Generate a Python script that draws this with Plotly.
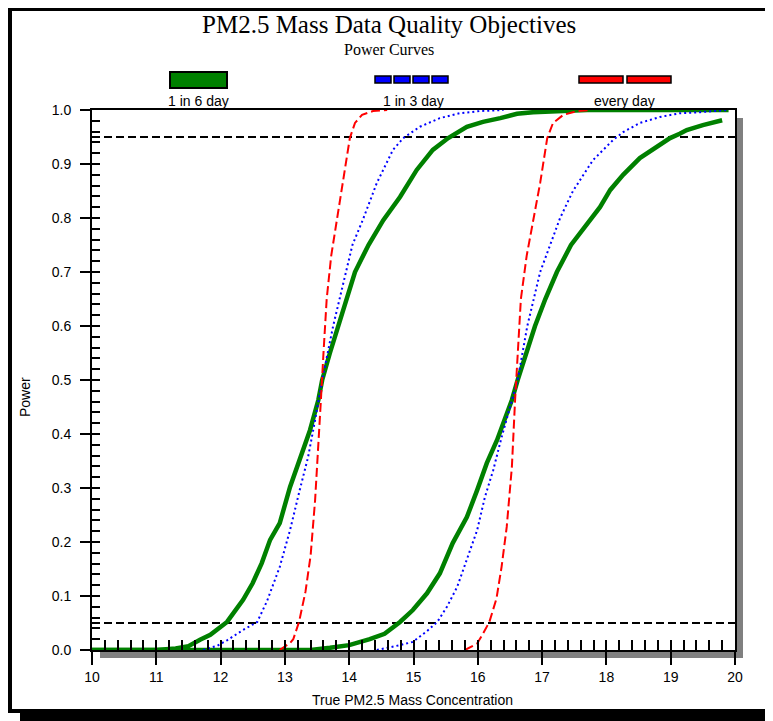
import plotly.graph_objects as go

# ---------------- data ----------------
title_text = "PM2.5 Mass Data Quality Objectives"
subtitle_text = "Power Curves"
x_title = "True PM2.5 Mass Concentration"
y_title = "Power"
series_names = ["1 in 6 day", "1 in 3 day", "every day"]

x_range = [10, 20]
y_range = [0, 1]
x_ticks = [10, 11, 12, 13, 14, 15, 16, 17, 18, 19, 20]
y_ticks = [0.0, 0.1, 0.2, 0.3, 0.4, 0.5, 0.6, 0.7, 0.8, 0.9, 1.0]
ref_levels = [0.05, 0.95]

# 1 in 6 day (green) - lower group
g6_low_x = [10.0, 11.0, 11.3, 11.5, 11.68, 11.84, 12.10, 12.35, 12.50, 12.64, 12.77, 12.92,
            13.08, 13.23, 13.39, 13.52, 13.58, 13.70, 13.83, 13.96, 14.09, 14.30, 14.53,
            14.79, 15.05, 15.30, 15.54, 15.83, 16.08, 16.35, 16.61, 16.86, 17.39, 17.7, 19.9]
g6_low_y = [0.0, 0.0, 0.003, 0.007, 0.019, 0.028, 0.052, 0.093, 0.124, 0.161, 0.204, 0.235,
            0.302, 0.352, 0.407, 0.463, 0.5, 0.55, 0.6, 0.65, 0.7, 0.75, 0.796,
            0.839, 0.889, 0.926, 0.948, 0.969, 0.978, 0.985, 0.993, 0.996, 0.998, 1.0, 1.0]
# 1 in 6 day (green) - upper group
g6_high_x = [10.0, 13.4, 13.7, 14.0, 14.32, 14.55, 14.79, 14.99, 15.21, 15.41, 15.61, 15.83,
             15.99, 16.14, 16.30, 16.45, 16.53, 16.62, 16.89, 17.05, 17.23, 17.45, 17.70,
             17.90, 18.06, 18.26, 18.52, 18.79, 18.99, 19.14, 19.25, 19.50, 19.80]
g6_high_y = [0.0, 0.0, 0.004, 0.009, 0.02, 0.03, 0.052, 0.074, 0.105, 0.142, 0.198, 0.246,
             0.296, 0.346, 0.389, 0.439, 0.463, 0.5, 0.6, 0.65, 0.7, 0.75, 0.79,
             0.82, 0.852, 0.88, 0.911, 0.931, 0.948, 0.956, 0.963, 0.972, 0.981]

# 1 in 3 day (blue)
b3_low_x = [11.73, 11.95, 12.10, 12.35, 12.57, 12.72, 12.92, 13.08, 13.23, 13.36, 13.47, 13.58,
            13.75, 13.95, 14.05, 14.21, 14.43, 14.68, 14.84, 15.10, 15.41, 15.72, 16.03, 16.4]
b3_low_y = [0.0, 0.008, 0.018, 0.037, 0.052, 0.09, 0.154, 0.222, 0.296, 0.357, 0.426, 0.5,
            0.6, 0.7, 0.75, 0.796, 0.865, 0.926, 0.948, 0.969, 0.985, 0.994, 0.998, 1.0]
b3_high_x = [14.43, 14.6, 14.79, 14.99, 15.21, 15.37, 15.52, 15.68, 15.83, 15.99, 16.11, 16.24,
             16.37, 16.53, 16.62, 16.77, 16.97, 17.28, 17.48, 17.79, 17.90, 18.10, 18.26,
             18.52, 18.83, 19.14, 19.46, 19.66, 19.9]
b3_high_y = [0.0, 0.004, 0.009, 0.015, 0.035, 0.052, 0.08, 0.117, 0.167, 0.222, 0.283, 0.333,
             0.394, 0.463, 0.5, 0.6, 0.7, 0.8, 0.85, 0.907, 0.92, 0.944, 0.959,
             0.976, 0.987, 0.994, 0.996, 0.998, 1.0]

# every day (red)
r1_low_x = [12.92, 12.97, 13.08, 13.13, 13.22, 13.32, 13.40, 13.47, 13.52, 13.56, 13.60, 13.65,
            13.72, 13.81, 13.90, 14.01, 14.09, 14.20, 14.37, 14.59]
r1_low_y = [0.0, 0.004, 0.013, 0.02, 0.052, 0.108, 0.175, 0.278, 0.37, 0.463, 0.55, 0.65,
            0.73, 0.796, 0.865, 0.948, 0.976, 0.991, 0.998, 1.0]
r1_high_x = [15.80, 15.99, 16.08, 16.18, 16.29, 16.37, 16.45, 16.53, 16.58, 16.62, 16.67, 16.76,
             16.86, 16.97, 17.08, 17.17, 17.33, 17.54, 17.75]
r1_high_y = [0.0, 0.012, 0.03, 0.052, 0.095, 0.154, 0.228, 0.339, 0.463, 0.55, 0.65, 0.73,
             0.796, 0.865, 0.948, 0.976, 0.991, 0.998, 1.0]

# ---------------- styling ----------------
GREEN = "#008000"
BLUE = "#0000FF"
RED = "#FF0000"
SANS = "Liberation Sans, Arial, sans-serif"
SERIF = "Liberation Serif, Times New Roman, serif"

OFF = 8                      # page body margin
W, H = 773 - OFF, 721 - OFF
PL, PR, PT, PB = 92, 735, 110, 650  # plot area in page pixels


def px(x):
    return (x - PL) / (PR - PL)


def py(y):
    return (PB - y) / (PB - PT)


fig = go.Figure()

# reference lines
for lvl in ref_levels:
    fig.add_trace(go.Scatter(x=x_range, y=[lvl, lvl], mode="lines",
                             line=dict(color="black", width=2, dash="8px,4px"),
                             showlegend=False, hoverinfo="skip"))

for xs, ys in [(g6_low_x, g6_low_y), (g6_high_x, g6_high_y)]:
    fig.add_trace(go.Scatter(x=xs, y=ys, mode="lines", name=series_names[0],
                             line=dict(color=GREEN, width=4.5), showlegend=False))
for xs, ys in [(b3_low_x, b3_low_y), (b3_high_x, b3_high_y)]:
    fig.add_trace(go.Scatter(x=xs, y=ys, mode="lines", name=series_names[1],
                             line=dict(color=BLUE, width=2, dash="2px,3px"), showlegend=False))
for xs, ys in [(r1_low_x, r1_low_y), (r1_high_x, r1_high_y)]:
    fig.add_trace(go.Scatter(x=xs, y=ys, mode="lines", name=series_names[2],
                             line=dict(color=RED, width=2, dash="9px,4px"), showlegend=False))

# invisible trace carrying the inner-tick overlay axes
fig.add_trace(go.Scatter(x=[x_range[0]], y=[y_range[0]], xaxis="x2", yaxis="y2",
                         mode="markers", marker=dict(opacity=0), showlegend=False,
                         hoverinfo="skip"))

shapes = []
# outer frame shadow + frame
shapes.append(dict(type="rect", xref="paper", yref="paper", layer="below",
                   x0=px(20), x1=px(790), y0=py(740), y1=py(17),
                   fillcolor="black", line=dict(width=0)))
shapes.append(dict(type="rect", xref="paper", yref="paper", layer="below",
                   x0=px(10), x1=px(769), y0=py(711), y1=py(9),
                   fillcolor="white", line=dict(color="black", width=4)))
# plot shadow
shapes.append(dict(type="rect", xref="paper", yref="paper", layer="below",
                   x0=px(100), x1=px(743), y0=py(658), y1=py(118),
                   fillcolor="#808080", line=dict(width=0)))
shapes.append(dict(type="rect", xref="paper", yref="paper", layer="below",
                   x0=0, x1=1, y0=0, y1=1, fillcolor="white", line=dict(width=0)))
# legend keys
shapes.append(dict(type="rect", xref="paper", yref="paper",
                   x0=px(170), x1=px(227), y0=py(88), y1=py(72),
                   fillcolor=GREEN, line=dict(color="black", width=2)))
for a, b in [(375, 391), (394, 410), (413, 429), (432, 448)]:
    shapes.append(dict(type="rect", xref="paper", yref="paper",
                       x0=px(a), x1=px(b), y0=py(83), y1=py(76),
                       fillcolor=BLUE, line=dict(color="black", width=1.5)))
for a, b in [(579, 623), (627, 671)]:
    shapes.append(dict(type="rect", xref="paper", yref="paper",
                       x0=px(a), x1=px(b), y0=py(83), y1=py(76),
                       fillcolor=RED, line=dict(color="black", width=1.5)))

annotations = [
    dict(text=title_text, x=px(389), y=py(24), xref="paper", yref="paper",
         showarrow=False, font=dict(family=SERIF, size=25, color="black"),
         xanchor="center", yanchor="middle"),
    dict(text=subtitle_text, x=px(389), y=py(50), xref="paper", yref="paper",
         showarrow=False, font=dict(family=SERIF, size=16, color="black"),
         xanchor="center", yanchor="middle"),
    dict(text=x_title, x=px(412), y=py(700), xref="paper", yref="paper",
         showarrow=False, font=dict(family=SANS, size=14, color="black"),
         xanchor="center", yanchor="middle"),
    dict(text=y_title, x=px(25), y=py(397), xref="paper", yref="paper",
         showarrow=False, textangle=-90, font=dict(family=SANS, size=14, color="black"),
         xanchor="center", yanchor="middle"),
]
for name, cx in zip(series_names, [198, 413, 624]):
    annotations.append(dict(text=name, x=px(cx), y=py(101), xref="paper", yref="paper",
                            showarrow=False, font=dict(family=SANS, size=14, color="black"),
                            xanchor="center", yanchor="middle"))

fig.update_layout(
    width=W, height=H,
    margin=dict(l=PL - OFF, r=W - (PR - OFF), t=PT - OFF, b=H - (PB - OFF), autoexpand=False),
    paper_bgcolor="white", plot_bgcolor="rgba(0,0,0,0)",
    showlegend=False,
    shapes=shapes, annotations=annotations,
    xaxis=dict(range=x_range, tickvals=x_ticks, ticks="outside", ticklen=13, tickwidth=2,
               tickcolor="black", showline=True, linecolor="black", linewidth=2, mirror=True,
               showgrid=False, zeroline=False,
               tickfont=dict(family=SANS, size=14, color="black")),
    yaxis=dict(range=y_range, tickvals=y_ticks, tickformat=".1f", ticks="outside", ticklen=10,
               tickwidth=2, tickcolor="black", showline=True, linecolor="black", linewidth=2,
               mirror=True, showgrid=False, zeroline=False, ticklabelstandoff=6,
               tickfont=dict(family=SANS, size=14, color="black")),
    xaxis2=dict(range=x_range, overlaying="x", anchor="y", side="bottom", dtick=0.2, tick0=10,
                ticks="inside", ticklen=10, tickwidth=2, tickcolor="black",
                showticklabels=False, showline=False, showgrid=False, zeroline=False),
    yaxis2=dict(range=y_range, overlaying="y", anchor="x", side="left", dtick=0.02, tick0=0,
                ticks="inside", ticklen=8, tickwidth=2, tickcolor="black",
                showticklabels=False, showline=False, showgrid=False, zeroline=False),
)

fig.write_html("out.html")
